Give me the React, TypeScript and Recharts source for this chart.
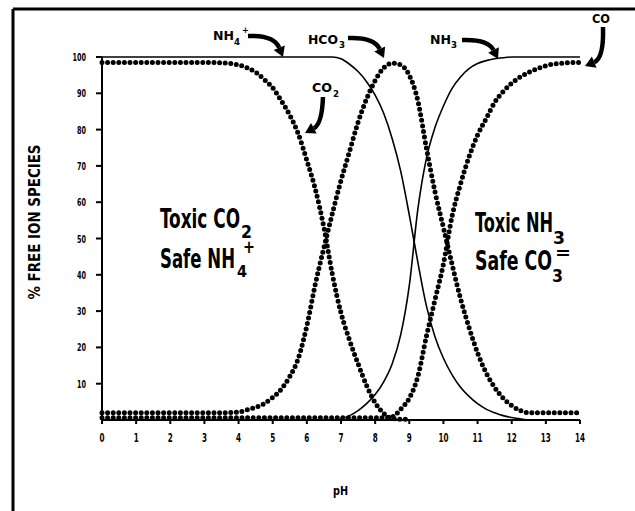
import React from 'react';
import { LineChart, Line, XAxis, YAxis } from 'recharts';

// pH grid (finer through the transition zones)
const PH = [
  0, 1, 2, 3, 3.5, 4, 4.25, 4.5, 4.75, 5, 5.25, 5.5, 5.75, 6, 6.25, 6.5, 6.75, 7, 7.25, 7.5, 7.75, 8,
  8.25, 8.5, 8.75, 9, 9.25, 9.5, 9.75, 10, 10.25, 10.5, 10.75, 11, 11.25, 11.5, 11.75, 12, 12.25, 12.5,
  12.75, 13, 13.5, 14,
];

// dotted curves (carbonate system), % free species
const CO2 = [
  98.5, 98.5, 98.5, 98.5, 98.4, 97.8, 97, 95.8, 93.8, 91.5, 88, 84, 78.8, 71.5, 63.5, 53, 40, 29.5, 22,
  15.5, 9.5, 4.8, 1.8, 0.4, 0.2, 0.2, null, null, null, null, null, null, null, null, null, null, null,
  null, null, null, null, null, null, null,
];
const HCO3 = [
  2, 2, 2, 2, 2, 2.2, 2.8, 3.5, 4.5, 6.2, 8.5, 12, 17, 26, 37.5, 47.5, 57, 66, 74, 82, 88.5, 93.5, 97,
  98.3, 97.8, 95, 88, 75, 63, 53, 43, 33.5, 25.5, 18.5, 13, 9, 6, 4, 2.6, 2, 2, 2, 2, 2,
];
const CO3 = [
  0.6, 0.6, 0.6, 0.6, 0.6, 0.6, 0.6, 0.6, 0.6, 0.6, 0.6, 0.6, 0.6, 0.6, 0.6, 0.6, 0.6, 0.6, 0.6, 0.6,
  0.6, 0.6, 0.6, 0.9, 3, 6, 12, 23, 33, 43, 56, 65, 72.5, 78.5, 83, 87.5, 90.5, 92.8, 94.5, 95.8, 96.8,
  97.6, 98.3, 98.5,
];

// solid curves (ammonia system)
const NH4 = [
  100, 100, 100, 100, 100, 100, 100, 100, 100, 100, 100, 100, 100, 100, 100, 100, 100, 99.5, 98, 96,
  93.2, 89.5, 84.5, 77.5, 68.5, 56.5, 43.5, 31.5, 23, 17, 12.5, 9, 6.5, 4.5, 3, 2, 1.2, 0.7, 0.3, 0, 0, 0,
  0, 0,
];
const NH3 = [
  0, 0, 0, 0, 0, 0, 0, 0, 0, 0, 0, 0, 0, 0, 0, 0, 0, 0.3, 1.2, 2.6, 4.5, 7, 10.5, 15.5, 23.5, 37, 58,
  72, 80.5, 86.5, 91.3, 94.5, 96.8, 98.2, 99, 99.5, 99.8, 100, 100, 100, 100, 100, 100, 100,
];

const X_TICKS = [0, 1, 2, 3, 4, 5, 6, 7, 8, 9, 10, 11, 12, 13, 14];
const Y_TICKS = [10, 20, 30, 40, 50, 60, 70, 80, 90, 100];

const data = PH.map((ph, i) => ({
  ph,
  co2: CO2[i],
  hco3: HCO3[i],
  co3: CO3[i],
  nh4: NH4[i],
  nh3: NH3[i],
}));

const FONT = "'Liberation Sans Narrow', 'DejaVu Sans Condensed', 'Liberation Sans', Arial, sans-serif";

function T(props: any) {
  const { x, y, size, len, children, ...rest } = props;
  return (
    <text
      x={x}
      y={y}
      fontSize={size}
      fontFamily={FONT}
      fontWeight={700}
      fill="#000"
      textLength={len}
      lengthAdjust={len ? 'spacingAndGlyphs' : undefined}
      {...rest}
    >
      {children}
    </text>
  );
}

// condensed tick labels like the old typewriter lettering
function XTick({ x, y, payload }: any) {
  const s = String(payload.value);
  return (
    <T x={x} y={y + 10} size={12} len={s.length * 5} textAnchor="middle">
      {s}
    </T>
  );
}

function YTick({ x, y, payload }: any) {
  const s = String(payload.value);
  return (
    <T x={x} y={y + 4} size={11} len={s.length * 4.5} textAnchor="end">
      {s}
    </T>
  );
}

// thick curved pointer arrow
function Arrow({ sx, sy, cx, cy, tx, ty }: any) {
  const dx = tx - cx;
  const dy = ty - cy;
  const d = Math.sqrt(dx * dx + dy * dy);
  const ux = dx / d;
  const uy = dy / d;
  const hl = 10;
  const hw = 6;
  const bx = tx - ux * hl;
  const by = ty - uy * hl;
  return (
    <g>
      <path d={`M${sx},${sy} Q${cx},${cy} ${bx},${by}`} fill="none" stroke="#000" strokeWidth={4.5} />
      <polygon
        points={`${tx},${ty} ${bx - uy * hw},${by + ux * hw} ${bx + uy * hw},${by - ux * hw}`}
        fill="#000"
      />
    </g>
  );
}

const dotted = {
  type: 'monotone' as const,
  stroke: '#000',
  strokeWidth: 5,
  strokeDasharray: '0 5.6',
  strokeLinecap: 'round' as const,
  dot: false,
  isAnimationActive: false,
  connectNulls: false,
};

const solid = {
  type: 'monotone' as const,
  stroke: '#000',
  strokeWidth: 1.6,
  dot: false,
  isAnimationActive: false,
};

export default function App() {
  return (
    <div
      style={{
        position: 'fixed',
        left: 0,
        top: 0,
        width: 635,
        height: 511,
        overflow: 'hidden',
        background: '#fff',
      }}
    >
      <div style={{ position: 'absolute', left: 0, top: 0 }}>
        <LineChart width={635} height={511} data={data} margin={{ top: 57, right: 55, bottom: 0, left: 0 }}>
          <XAxis
            dataKey="ph"
            type="number"
            domain={[0, 14]}
            ticks={X_TICKS}
            height={91}
            tickSize={4}
            tickMargin={8}
            stroke="#000"
            strokeWidth={2}
            tick={<XTick />}
          />
          <YAxis
            type="number"
            domain={[0, 100]}
            ticks={Y_TICKS}
            width={102}
            tickSize={6}
            tickMargin={10}
            stroke="#000"
            strokeWidth={2}
            tick={<YTick />}
          />
          <Line dataKey="nh4" {...solid} />
          <Line dataKey="nh3" {...solid} />
          <Line dataKey="co2" {...dotted} />
          <Line dataKey="hco3" {...dotted} />
          <Line dataKey="co3" {...dotted} />
        </LineChart>
      </div>
      <svg
        width={635}
        height={511}
        style={{ position: 'absolute', left: 0, top: 0, pointerEvents: 'none' }}
      >
        {/* frame */}
        <line x1={13} y1={9} x2={640} y2={9} stroke="#000" strokeWidth={3} />
        <line x1={13} y1={9} x2={13} y2={520} stroke="#000" strokeWidth={3} />

        {/* axis titles */}
        <T x={0} y={0} size={15} len={155} textAnchor="middle" transform="translate(40,222) rotate(-90)">
          % FREE ION SPECIES
        </T>
        <T x={333} y={495} size={13} len={15}>pH</T>

        {/* region labels */}
        <T x={160} y={228} size={27} len={80}>Toxic CO</T>
        <T x={241} y={238} size={18} len={11}>2</T>
        <T x={160} y={268} size={27} len={75}>Safe NH</T>
        <T x={237} y={277} size={15} len={10}>4</T>
        <T x={243} y={253} size={17} len={12}>+</T>

        <T x={475} y={232} size={26} len={78}>Toxic NH</T>
        <T x={553} y={244} size={18} len={12}>3</T>
        <T x={475} y={270} size={26} len={77}>Safe CO</T>
        <T x={552} y={282} size={17} len={11}>3</T>
        <T x={555} y={259} size={18} len={16}>=</T>

        {/* species pointers */}
        <T x={213} y={40} size={13} len={21}>NH</T>
        <T x={234} y={45} size={9} len={6}>4</T>
        <T x={242} y={33} size={9}>+</T>
        <Arrow sx={248} sy={36} cx={274} cy={35} tx={283} ty={57} />

        <T x={308} y={44} size={13} len={30}>HCO</T>
        <T x={339} y={48} size={9} len={6}>3</T>
        <Arrow sx={348} sy={38} cx={374} cy={37} tx={384} ty={58} />

        <T x={430} y={44} size={13} len={21}>NH</T>
        <T x={451} y={48} size={9} len={6}>3</T>
        <Arrow sx={462} sy={40} cx={488} cy={39} tx={498} ty={59} />

        <T x={592} y={23} size={13} len={18}>CO</T>
        <Arrow sx={603} sy={27} cx={604} cy={58} tx={585} ty={66} />

        <T x={312} y={92} size={13} len={20}>CO</T>
        <T x={333} y={97} size={9} len={6}>2</T>
        <Arrow sx={323} sy={97} cx={322} cy={124} tx={305} ty={133} />
      </svg>
    </div>
  );
}
